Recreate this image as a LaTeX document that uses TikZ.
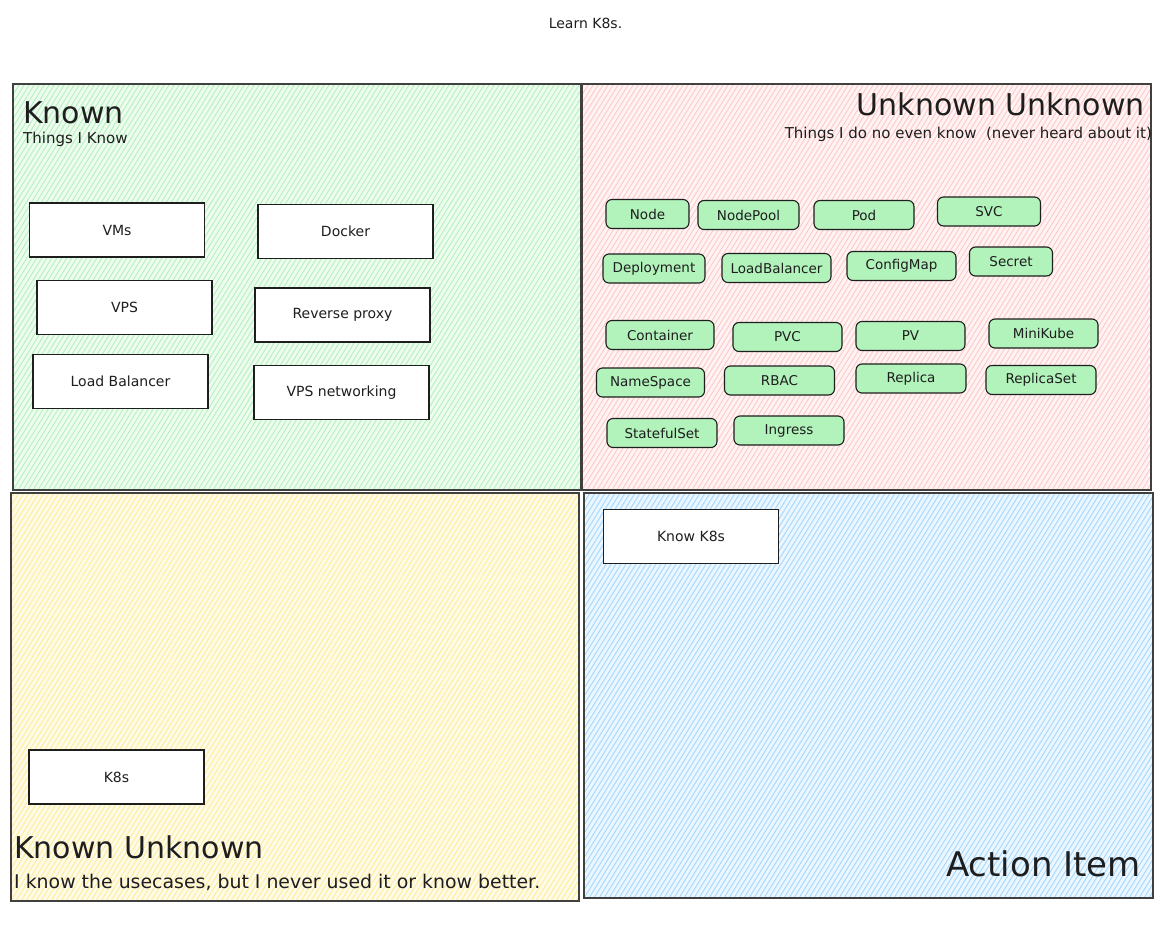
\documentclass[tikz,border=0pt]{standalone}
\usepackage{fontspec}
\setmainfont{DejaVu Sans}
\definecolor{hgreen}{HTML}{B2F2BB}
\definecolor{hpink}{HTML}{FFC9C9}
\definecolor{hyellow}{HTML}{FFEC99}
\definecolor{hblue}{HTML}{A5D8FF}
\definecolor{ink}{HTML}{1E1E1E}
\newcommand{\myhatch}[5]{%
  \begin{scope}
    \clip (#1,#2) rectangle (#3,#4);
    \fill[#5!22] (#1,#2) rectangle (#3,#4);
    \pgfmathsetmacro{\hh}{#4-#2}
    \foreach \i in {-320,-315,...,600} {
      \draw[#5, line width=0.9pt] ({#1+\i},#4) -- ++({0.62*\hh},-\hh);
    }
  \end{scope}}
\begin{document}
\begin{tikzpicture}[x=1pt,y=-1pt,
  frame/.style={draw=ink!85, line width=1.3pt, inner sep=0pt},
  wbox/.style={draw=ink, fill=white, line width=1.1pt, inner sep=0pt,
    minimum width=175pt, minimum height=54pt, font=\fontsize{14}{16}\selectfont, text=ink},
  pill/.style={draw=ink, fill=hgreen, line width=1.1pt, rounded corners=6pt, inner sep=0pt,
    minimum height=29pt, font=\fontsize{13.5}{16}\selectfont, text=ink},
  bigtitle/.style={font=\fontsize{30}{34}\selectfont, inner sep=0pt, text=ink},
  subtitle/.style={font=\fontsize{15}{17}\selectfont, inner sep=0pt, text=ink}
]
\useasboundingbox (0,0) rectangle (1170,924);
\fill[white] (0,0) rectangle (1170,924);

% hachure fills
\myhatch{13}{84}{581}{490}{hgreen}
\myhatch{582}{84}{1151}{490}{hpink}
\myhatch{11}{493}{579}{901}{hyellow}
\myhatch{584}{493}{1153}{898}{hblue}

% quadrant frames
\node[frame, minimum width=568pt, minimum height=406pt] (known) at (297,287) {};
\node[frame, minimum width=569pt, minimum height=406pt] (uu) at (866.5,287) {};
\node[frame, minimum width=568pt, minimum height=408pt] (ku) at (295,697) {};
\node[frame, minimum width=569pt, minimum height=405pt] (action) at (868.5,695.5) {};

% title
\node[font=\fontsize{14}{16}\selectfont, inner sep=0pt, anchor=base, text=ink] (title) at (585.5,28) {Learn K8s.};

% Known
\node[bigtitle, anchor=base west] (knownT) at (23,123) {Known};
\node[subtitle, anchor=base west] (knownS) at (23,143) {Things I Know};
\node[wbox] (vms) at (117,230) {VMs};
\node[wbox] (docker) at (345.5,231.5) {Docker};
\node[wbox] (vps) at (124.5,307.5) {VPS};
\node[wbox] (rproxy) at (342.5,315) {Reverse proxy};
\node[wbox] (lb) at (120.5,381.5) {Load Balancer};
\node[wbox] (vpsnet) at (341.5,392.5) {VPS networking};

% Unknown Unknown
\node[bigtitle, anchor=base east] (uuT) at (1145,115) {Unknown Unknown};
\node[subtitle, anchor=base east] (uuS) at (1152,138) {Things I do no even know\ \ (never heard about it)};
\node[pill, minimum width=83pt] (p-node) at (647.5,214) {Node};
\node[pill, minimum width=101pt] (p-nodepool) at (748.5,215) {NodePool};
\node[pill, minimum width=100pt] (p-pod) at (864,215) {Pod};
\node[pill, minimum width=103pt] (p-svc) at (989,211.5) {SVC};
\node[pill, minimum width=102pt] (p-deploy) at (654,268.5) {Deployment};
\node[pill, minimum width=109pt] (p-lb) at (776.5,268) {LoadBalancer};
\node[pill, minimum width=109pt] (p-cm) at (901.5,266) {ConfigMap};
\node[pill, minimum width=83pt] (p-secret) at (1011,261.5) {Secret};
\node[pill, minimum width=108pt] (p-container) at (660,335) {Container};
\node[pill, minimum width=109pt] (p-pvc) at (787.5,337) {PVC};
\node[pill, minimum width=109pt] (p-pv) at (910.5,336) {PV};
\node[pill, minimum width=109pt] (p-minikube) at (1043.5,333.5) {MiniKube};
\node[pill, minimum width=108pt] (p-ns) at (650.5,382.5) {NameSpace};
\node[pill, minimum width=110pt] (p-rbac) at (779.5,380.5) {RBAC};
\node[pill, minimum width=110pt] (p-replica) at (911,378.5) {Replica};
\node[pill, minimum width=110pt] (p-rs) at (1041,380) {ReplicaSet};
\node[pill, minimum width=110pt] (p-sts) at (662,433) {StatefulSet};
\node[pill, minimum width=110pt] (p-ingress) at (789,430.5) {Ingress};

% Known Unknown
\node[wbox] (k8s) at (116.5,777) {K8s};
\node[bigtitle, anchor=base west] (kuT) at (14,858) {Known Unknown};
\node[font=\fontsize{18.9}{21}\selectfont, inner sep=0pt, anchor=base west, text=ink] (kuS) at (14,888) {I know the usecases, but I never used it or know better.};

% Action Item
\node[wbox] (knowk8s) at (691,536.5) {Know K8s};
\node[font=\fontsize{34}{38}\selectfont, inner sep=0pt, text=ink, anchor=base east] (actT) at (1141,876) {Action Item};
\end{tikzpicture}
\end{document}
